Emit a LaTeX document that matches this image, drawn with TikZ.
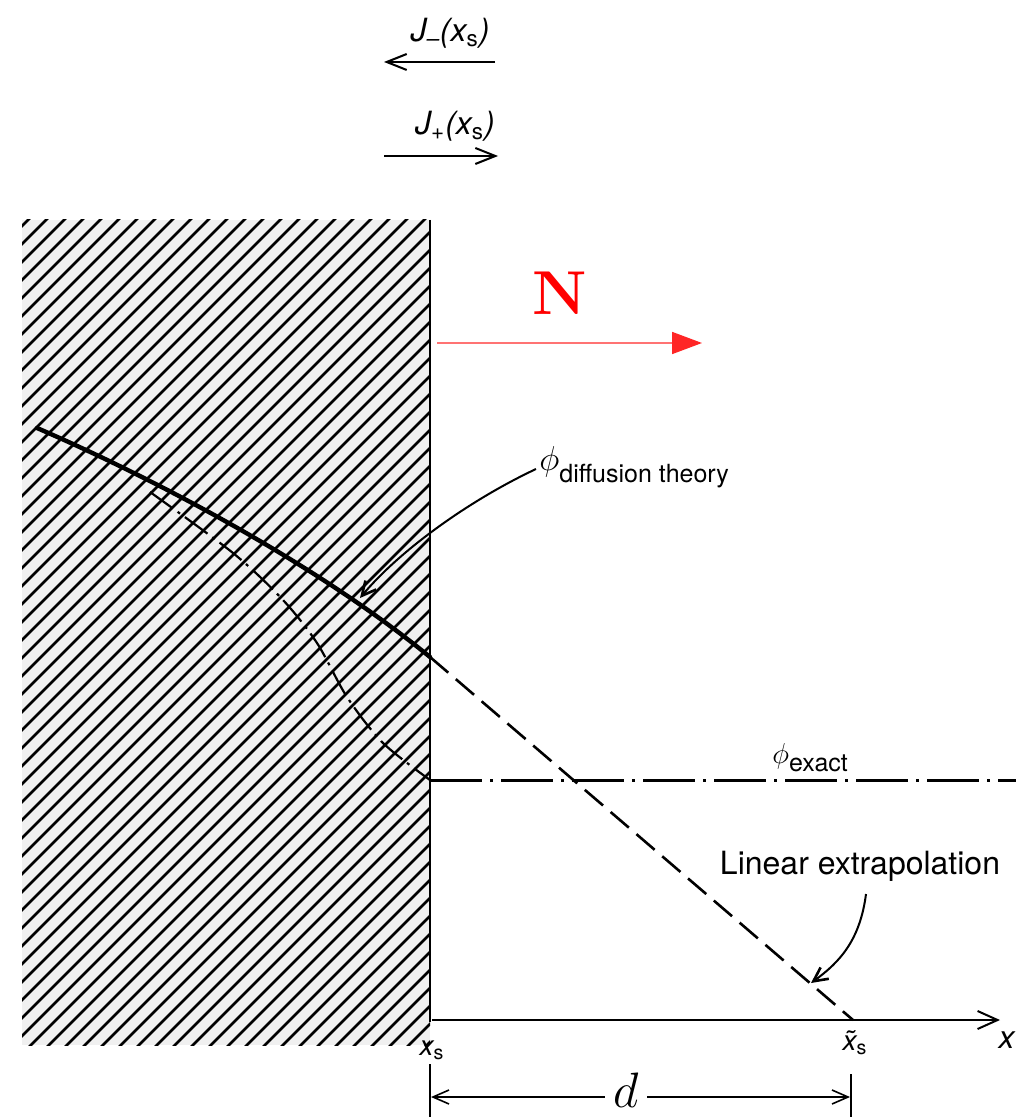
\documentclass[tikz,border=0pt]{standalone}
\usepackage{fontspec}
\setsansfont{TeX Gyre Heros}
\usepackage{tikz}
\usetikzlibrary{
	arrows.meta,
	positioning,
	calc
}

\begin{document}
\begin{tikzpicture}[
				x=0.5pt, y=-0.5pt,
				hatchline/.style={line width=1.3pt},
				wall/.style={line width=1.4pt},
				diffcurve/.style={line width=2.2pt, line cap=round},
				extrap/.style={line width=1.3pt, dash pattern=on 12pt off 5pt},
				exactcurve/.style={line width=1.1pt, dash pattern=on 14pt off 3pt on 1.5pt off 3pt},
				exactline/.style={line width=1.5pt, dash pattern=on 26pt off 4pt on 1.5pt off 4pt},
				axis/.style={line width=1pt, -{Straight Barb[length=10pt,width=9pt]}},
				flux/.style={line width=1pt, -{Straight Barb[length=10pt,width=8pt]}},
				pointer/.style={line width=1pt, -{Straight Barb[length=7pt,width=7pt,line width=1.3pt]}},
				dimarrow/.style={line width=0.8pt, -{Straight Barb[length=8pt,width=7pt]}},
				tick/.style={line width=0.9pt},
				lbl/.style={font=\sffamily\fontsize{16}{16}\selectfont, inner sep=0pt}
				]
				\useasboundingbox (0,0) rectangle (1016,1117);
				
				% partial currents
				\node[lbl] (jminus) at (450,33) {\itshape J\textsubscript{--}(x\textsubscript{\upshape s})};
				\coordinate (jmStart) at (495,62);
				\coordinate (jmEnd) at (384,62);
				\draw[flux] (jmStart) -- (jmEnd);
				
				\node[lbl] (jplus) at (455,126) {\itshape J\textsubscript{+}(x\textsubscript{\upshape s})};
				\coordinate (jpStart) at (384,156);
				\coordinate (jpEnd) at (498,156);
				\draw[flux] (jpStart) -- (jpEnd);
				
				% hatched medium
				\fill[black!6] (22,220) rectangle (430,1045);
				\begin{scope}
					\clip (22,220) rectangle (430,1045);
					\foreach \x in {-830,-812,...,440}
						\draw[hatchline] (\x,1060) -- ++(900,-900);
				\end{scope}
				
				% surface
				\coordinate (wallTop) at (430,220);
				\coordinate (wallBot) at (430,1022);
				\draw[wall] (wallTop) -- (wallBot);
				
				% normal N
				\node[red, font=\fontsize{31}{31}\selectfont\bfseries] (normal) at (560,293) {N};
				\coordinate (nStart) at (437,343);
				\coordinate (nEnd) at (702,343);
				\draw[red!55, line width=0.9pt, -{Triangle[length=15pt,width=11pt,color=red!85]}] (nStart) -- (nEnd);
				
				% diffusion theory flux
				\coordinate (diffStart) at (37,428);
				\coordinate (surfFlux) at (430,657);
				\draw[diffcurve] (diffStart) .. controls (180,490) and (330,575) .. (surfFlux);
				
				% exact flux
				\draw[exactcurve] plot[smooth] coordinates {(150,492) (233,553) (283,600) (317,643) (347,697) (383,743) (430,780)};
				\coordinate (exactStart) at (430,780);
				\coordinate (exactEnd) at (1016,780);
				\draw[exactline] (exactStart) -- (exactEnd);
				
				% linear extrapolation
				\coordinate (xsTilde) at (853,1020);
				\draw[extrap] (surfFlux) -- (xsTilde);
				
				% x axis
				\coordinate (axStart) at (432,1020);
				\coordinate (axEnd) at (1000,1020);
				\draw[axis] (axStart) -- (axEnd);
				\node[lbl, anchor=east] (xlabel) at (1015,1040) {\itshape x};
				\node[lbl, font=\sffamily\fontsize{14}{14}\selectfont] (xsLbl) at (432,1050) {\itshape x\textsubscript{\upshape s}};
				\node[lbl, font=\sffamily\fontsize{14}{14}\selectfont] (xsTildeLbl) at (855,1043) {\itshape \~{x}\textsubscript{\upshape s}};
				
				% labels
				\node[anchor=base west, inner sep=0pt] (diffLbl) at (539,470)
					{{\fontsize{16}{16}\selectfont$\phi$}\raisebox{-6pt}{\sffamily\fontsize{12.5}{12.5}\selectfont diffusion theory}};
				\coordinate (diffTail) at (536,469);
				\coordinate (diffHead) at (360,598);
				\draw[pointer] (diffTail) .. controls (470,500) and (400,550) .. (diffHead);
				
				\node[anchor=base west, inner sep=0pt] (exactLbl) at (772,763)
					{{\fontsize{15}{15}\selectfont$\phi$}\raisebox{-4pt}{\sffamily\fontsize{12.5}{12.5}\selectfont exact}};
				
				\node[lbl] (linLbl) at (860,866) {Linear extrapolation};
				\coordinate (linTail) at (866,894);
				\coordinate (linHead) at (811,983);
				\draw[pointer] (linTail) .. controls (860,940) and (840,962) .. (linHead);
				
				% extrapolation distance
				\coordinate (tickL) at (430,1064);
				\coordinate (tickLb) at (430,1117);
				\coordinate (tickR) at (851,1074);
				\coordinate (tickRb) at (851,1117);
				\draw[tick] (tickL) -- (tickLb);
				\draw[tick] (tickR) -- (tickRb);
				\node[font=\fontsize{28}{28}\selectfont, inner xsep=4pt, inner ysep=0pt] (dist) at (626,1090) {$d$};
				\coordinate (dL) at (431,1097);
				\coordinate (dR) at (850,1097);
				\draw[dimarrow] (dist.west |- dL) -- (dL);
				\draw[dimarrow] (dist.east |- dR) -- (dR);
			\end{tikzpicture}
\end{document}
